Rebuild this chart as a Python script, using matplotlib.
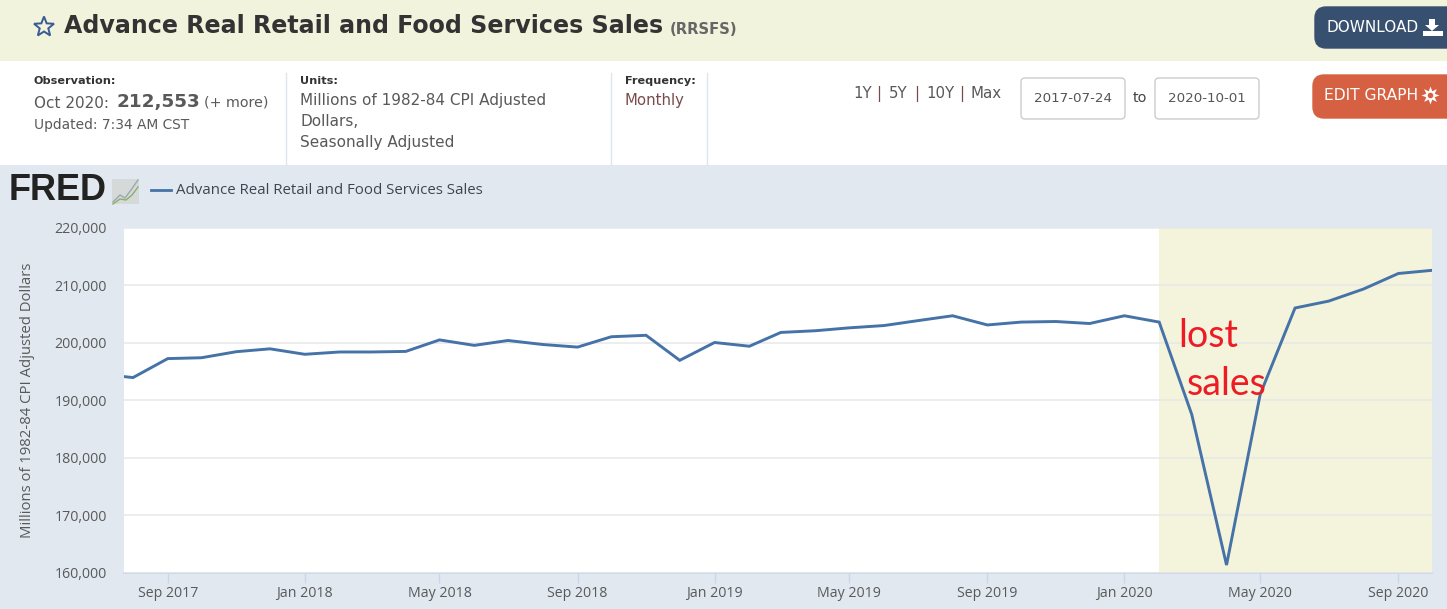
#!/usr/bin/env python3
"""FRED page: Advance Real Retail and Food Services Sales, with annotation."""

import matplotlib

matplotlib.use("Agg")

import matplotlib.dates as mdates
import numpy as np
import pandas as pd
from matplotlib import pyplot as plt
from matplotlib.patches import FancyBboxPatch, Polygon, Rectangle

W, H = 1447, 609

# ----------------------- data ------------------------------ #
months = pd.date_range("2017-07-01", "2020-10-01", freq="MS")
sales = [
    194560, 193900, 197200, 197350, 198400, 198900, 197950, 198350, 198350, 198450,
    200450, 199500, 200350, 199650, 199200, 201000, 201250, 196900, 200000, 199350,
    201750, 202050, 202550, 202950, 203800, 204650, 203050, 203550, 203650, 203300,
    204650, 203550, 187500, 161300, 191000, 206000, 207200, 209300, 212000, 212553,
]
y_ticks = [160000, 170000, 180000, 190000, 200000, 210000, 220000]
x_ticks = ["2017-09-01", "2018-01-01", "2018-05-01", "2018-09-01", "2019-01-01",
           "2019-05-01", "2019-09-01", "2020-01-01", "2020-05-01", "2020-09-01"]
x_start, x_end = "2017-07-24", "2020-10-01"
recession_start = "2020-02-01"

LINE = "#4572a7"
GREY = "#595959"
PAGE_BG = "#e1e8f0"
HEAD_BG = "#f1f3dd"
BAND = "#f4f4dc"
UI = "DejaVu Sans"
CHART = "Open Sans"

fig = plt.figure(figsize=(W / 100, H / 100), dpi=100, facecolor=PAGE_BG)

# ----------------------- page furniture (pixel coords) ------ #
page = fig.add_axes([0, 0, 1, 1], zorder=0)
page.set_xlim(0, W)
page.set_ylim(H, 0)
page.axis("off")

page.add_patch(Rectangle((0, 0), W, 61, color=HEAD_BG, lw=0))
page.add_patch(Rectangle((0, 61), W, 104, color="white", lw=0))
for x in (286, 611, 707):
    page.plot([x, x], [73, 165], color="#dfe5ec", lw=1)


def txt(x, y, s, size=10, color=GREY, weight="normal", family=UI, **kw):
    kw.setdefault("va", "center")
    return page.text(x, y, s, fontsize=size, color=color, fontweight=weight, family=family, **kw)


def button(x0, y0, x1, y1, color, edge=None, r=11):
    page.add_patch(FancyBboxPatch((x0 + r, y0 + r), x1 - x0 - 2 * r, y1 - y0 - 2 * r,
                                  boxstyle=f"round,pad={r},rounding_size={r}",
                                  fc=color, ec=edge or color, lw=1))


# star + title
ang = np.deg2rad(np.arange(0, 360, 36) - 90)
rad = np.where(np.arange(10) % 2 == 0, 10.5, 4.5)
page.add_patch(Polygon(np.c_[44 + rad * np.cos(ang), 27 + rad * np.sin(ang)], closed=True,
                       fc="none", ec="#3a5a94", lw=1.4))
txt(64, 26, "Advance Real Retail and Food Services Sales", 17.1, "#333333", "bold")
txt(670, 30, "(RRSFS)", 10.6, "#666666", "bold")

# observation / units / frequency
txt(34, 81, "Observation:", 8.1, "#333333", "bold")
txt(34, 103, "Oct 2020:", 11)
txt(116, 102, "212,553", 13.2, GREY, "bold")
txt(204, 103, "(+ more)", 10.3)
txt(34, 125, "Updated: 7:34 AM CST", 9.9)
txt(300, 81, "Units:", 8.1, "#333333", "bold")
txt(300, 100, "Millions of 1982-84 CPI Adjusted", 11)
txt(300, 121, "Dollars,", 11)
txt(300, 142, "Seasonally Adjusted", 11)
txt(625, 81, "Frequency:", 8.1, "#333333", "bold")
txt(625, 100, "Monthly", 10.7, "#7a4a4a")

# range links + date boxes
txt(853, 94, "1Y", 10.8)
txt(876, 94, "|", 10.8, "#7a4a4a")
txt(889, 94, "5Y", 10.8)
txt(914, 94, "|", 10.8, "#7a4a4a")
txt(926, 94, "10Y", 10.8)
txt(959, 94, "|", 10.8, "#7a4a4a")
txt(971, 94, "Max", 10.8)
button(1021, 78, 1125, 119, "white", "#cccccc", 4)
button(1155, 78, 1259, 119, "white", "#cccccc", 4)
txt(1073, 99, "2017-07-24", 9.7, "#555555", ha="center")
txt(1207, 99, "2020-10-01", 9.7, "#555555", ha="center")
txt(1140, 98, "to", 10.4, "#444444", ha="center")

# buttons
button(1315, 7, 1470, 48, "#37506f")
txt(1326, 28, "DOWNLOAD", 11, "white")
page.add_patch(Polygon([[1429, 19], [1435, 19], [1435, 25], [1439, 25], [1432, 31], [1425, 25], [1429, 25]],
                       closed=True, color="white", lw=0))
page.add_patch(Rectangle((1423, 31), 20, 5, color="white", lw=0))
button(1313, 75, 1470, 118, "#d66142")
txt(1324, 96, "EDIT GRAPH", 11.2, "white")
page.plot([1430], [95], marker=(8, 1, 0), ms=13, color="white", mew=0)
page.plot([1430], [95], marker="o", ms=4, color="#d66142", mew=0)

# FRED logo + legend
txt(9, 191, "FRED", 26, "#222222", "bold", family="Liberation Sans")
page.add_patch(Rectangle((112, 179), 27, 25, color="#d5d9d8", lw=0))
page.plot([113, 120, 125, 131, 138], [202, 195, 198, 190, 180], color="#9aa7b5", lw=1)
page.plot([113, 120, 126, 132, 138], [204, 199, 200, 195, 187], color="#8fae6a", lw=1)
page.plot([151, 171], [190, 190], color=LINE, lw=2)
txt(176, 190, "Advance Real Retail and Food Services Sales", 10.8, "#3d4650", family=CHART)

# ----------------------- chart ------------------------------ #
L, R, T, B = 124, 1432, 227.5, 572.5
ax = fig.add_axes([L / W, 1 - B / H, (R - L) / W, (B - T) / H], zorder=1, facecolor="white")
ax.set_xlim(pd.Timestamp(x_start), pd.Timestamp(x_end))
ax.set_ylim(160000, 220000)

ax.axvspan(pd.Timestamp(recession_start), pd.Timestamp(x_end), color=BAND, lw=0, zorder=1)
ax.set_axisbelow(False)
ax.yaxis.grid(True, color="#e8e8e8", lw=1.1, zorder=2)
ax.plot(months, sales, color=LINE, lw=2.1, zorder=3, solid_joinstyle="miter")

for side in ("top", "left", "right"):
    ax.spines[side].set_visible(False)
ax.spines["bottom"].set_color("#ccd6eb")
ax.spines["bottom"].set_linewidth(1.2)

ax.set_yticks(y_ticks)
ax.set_yticklabels([f"{v:,}" for v in y_ticks])
ax.tick_params(axis="y", length=0, pad=12.5, labelsize=10.2, labelcolor=GREY)
ax.set_xticks([mdates.date2num(pd.Timestamp(d)) for d in x_ticks])
ax.set_xticklabels([pd.Timestamp(d).strftime("%b %Y") for d in x_ticks])
ax.tick_params(axis="x", length=7.5, width=1, color="#ccd6eb", pad=2.5, labelsize=10.2, labelcolor=GREY)
for lab in ax.get_xticklabels() + ax.get_yticklabels():
    lab.set_family(CHART)
ax.set_ylabel("Millions of 1982-84 CPI Adjusted Dollars", family=CHART, fontsize=10.7, color=GREY)
ax.yaxis.set_label_coords((35 - L) / (R - L), 0.5)

# hand written note, sits over the line
over = fig.add_axes([0, 0, 1, 1], zorder=2)
over.set_xlim(0, W)
over.set_ylim(H, 0)
over.axis("off")
over.text(1178, 347, "lost", fontsize=27, color="#ed1c24", family="Lato", va="baseline")
over.text(1187, 395, "sales", fontsize=27, color="#ed1c24", family="Lato", va="baseline")

fig.savefig("out.png", dpi=100, facecolor=fig.get_facecolor())
